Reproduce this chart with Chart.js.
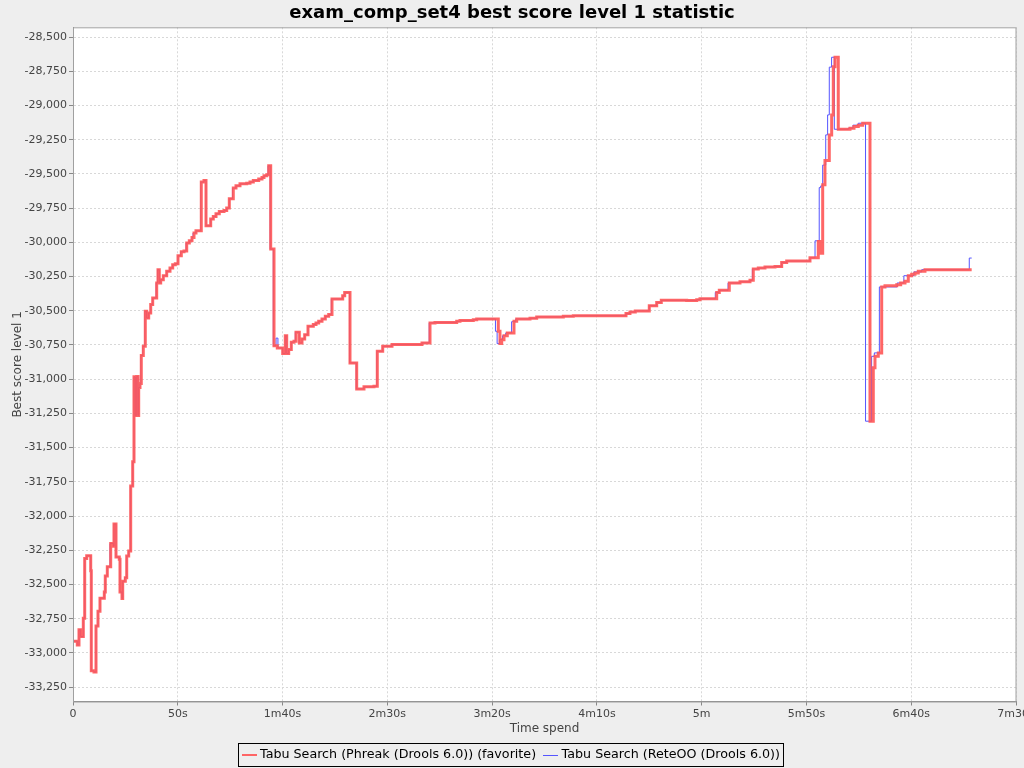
<!DOCTYPE html>
<html>
<head>
<meta charset="utf-8">
<script src="https://cdn.jsdelivr.net/npm/chart.js@4"></script>
<style>
  html, body { margin: 0; padding: 0; background: #eeeeee; }
  #wrap { width: 1024px; height: 768px; }
</style>
</head>
<body>
<div id="wrap"><canvas id="chart" width="1024" height="768"></canvas></div>
<script>
// time spent (seconds) and best score level 1
const seriesNames = ["Tabu Search (Phreak (Drools 6.0)) (favorite)", "Tabu Search (ReteOO (Drools 6.0))"];
const seriesColors = ["rgba(255, 85, 85, 0.9)", "#5555ff"];

const phreakTime = [0.4, 2.05, 2.86, 3.67, 4.92, 5.58, 6.54, 8.45, 8.73, 10.02,
  10.98, 11.93, 12.88, 14.94, 15.41, 16.37, 17.99, 19.23, 19.56, 20.52,
  22.09, 22.43, 23.38, 23.72, 24.96, 25.63, 26.58, 27.53, 28.49, 29.11,
  29.73, 30.40, 31.02, 31.35, 31.97, 32.59, 33.55, 34.50, 35.17, 36.12,
  37.08, 38.03, 39.94, 40.56, 41.18, 41.85, 43.09, 44.71, 46.29, 47.58,
  48.82, 50.11, 51.68, 52.97, 54.26, 55.50, 56.79, 57.74, 58.69, 61.22,
  62.51, 63.47, 65.71, 66.95, 68.24, 69.81, 72.06, 73.34, 74.59, 76.49,
  77.78, 79.69, 82.89, 84.46, 86.04, 88.62, 90.19, 91.14, 92.43, 93.39,
  94.34, 95.92, 97.49, 100.07, 101.31, 101.98, 102.93, 104.17, 105.46, 106.41,
  107.99, 109.28, 110.56, 112.14, 114.67, 115.96, 117.24, 118.82, 120.40, 122.02,
  123.59, 128.70, 129.65, 132.18, 135.38, 138.86, 143.63, 145.21, 147.79, 152.23,
  166.54, 170.36, 172.74, 183.10, 184.67, 191.02, 192.64, 202.95, 203.76, 204.57,
  205.67, 207.24, 210.44, 211.73, 218.08, 221.27, 233.97, 238.74, 263.89, 265.79,
  268.32, 275.00, 278.54, 280.73, 292.85, 297.62, 299.20, 307.17, 308.41, 313.18,
  318.29, 323.06, 324.63, 327.02, 330.21, 334.99, 338.18, 340.57, 351.69, 355.65,
  356.46, 357.75, 358.84, 360.90, 362.04, 362.81, 363.62, 365.19, 370.78, 372.69,
  374.74, 376.84, 380.32, 381.90, 382.71, 384.28, 385.91, 387.48, 393.07, 394.97,
  397.03, 398.60, 400.22, 401.80, 403.37, 406.57, 428.85];
const phreakScore = [-32914, -32943, -32830, -32880, -32747, -32310, -32290, -32400, -33131, -33140,
  -32803, -32695, -32600, -32555, -32438, -32370, -32200, -32220, -32058, -32300,
  -32316, -32555, -32603, -32477, -32450, -32292, -32255, -31781, -31603, -30983,
  -31265, -30980, -31265, -31061, -31032, -30827, -30760, -30504, -30553, -30516,
  -30455, -30407, -30297, -30200, -30297, -30273, -30244, -30212, -30188, -30164,
  -30156, -30098, -30069, -30064, -30005, -29989, -29964, -29932, -29916, -29560,
  -29548, -29879, -29830, -29811, -29791, -29775, -29767, -29750, -29682, -29604,
  -29587, -29573, -29568, -29560, -29548, -29538, -29527, -29514, -29507, -29441,
  -30049, -30755, -30772, -30813, -30682, -30813, -30784, -30730, -30723, -30657,
  -30735, -30706, -30675, -30614, -30601, -30589, -30577, -30560, -30541, -30528,
  -30414, -30390, -30366, -30881, -31071, -31056, -31052, -30796, -30760, -30747,
  -30735, -30589, -30585, -30577, -30572, -30565, -30560, -30650, -30740, -30711,
  -30682, -30662, -30577, -30560, -30555, -30545, -30541, -30536, -30521, -30509,
  -30501, -30463, -30439, -30424, -30425, -30419, -30412, -30366, -30351, -30297,
  -30288, -30278, -30195, -30188, -30180, -30176, -30147, -30137, -30113, -29994,
  -30080, -29580, -29403, -29215, -29069, -28717, -28648, -29174, -29166, -29154,
  -29144, -29130, -31307, -30917, -30833, -30808, -30326, -30317, -30310, -30297,
  -30285, -30244, -30234, -30224, -30212, -30200, -30200];

const reteTime = [0.4, 2.05, 2.86, 3.67, 4.92, 5.58, 6.54, 8.45, 8.73, 10.02,
  10.98, 11.93, 12.88, 14.94, 15.41, 16.37, 17.7, 19.23, 19.56, 20.52,
  22.09, 22.43, 23.38, 23.72, 24.7, 25.63, 26.58, 27.4, 28.49, 29.11,
  29.73, 30.40, 31.02, 31.35, 31.97, 32.4, 33.3, 34.3, 35.17, 36.12,
  37.08, 38.03, 39.7, 40.4, 41.18, 41.85, 43.09, 44.71, 46.29, 47.58,
  48.82, 50.11, 51.4, 52.97, 54.0, 55.50, 56.79, 57.3, 58.69, 61.0,
  62.51, 63.47, 65.71, 66.95, 68.24, 69.81, 72.06, 73.34, 74.59, 76.1,
  77.78, 79.69, 82.89, 84.46, 86.04, 88.62, 90.19, 91.14, 92.43, 93.1,
  94.1, 95.6, 96.9, 97.8, 100.07, 101.31, 101.98, 102.93, 104.17, 105.46, 106.1,
  107.99, 109.28, 110.56, 112.14, 114.67, 115.96, 117.24, 118.82, 120.40, 122.02,
  123.3, 128.70, 129.65, 132.0, 135.2, 138.86, 143.63, 145.0, 147.79, 152.23,
  166.54, 170.0, 172.74, 183.10, 184.67, 191.02, 192.64, 201.6, 202.4, 203.5,
  205.0, 206.5, 209.3, 211.3, 218.08, 221.27, 233.97, 238.74, 263.89, 265.79,
  268.32, 275.00, 278.54, 280.73, 292.85, 297.62, 299.20, 306.5, 308.41, 312.6,
  318.29, 323.06, 324.2, 327.02, 330.21, 334.99, 338.18, 340.57, 351.69, 354.1,
  356.1, 356.8, 357.75, 359.2, 360.1, 360.9, 362.0, 363.3, 370.0, 372.2,
  374.7, 378.2, 381.1, 382.4, 384.8, 393.3, 396.5, 401.3, 405.0, 427.7, 428.85];
const reteScore = [-32914, -32943, -32830, -32880, -32747, -32310, -32290, -32400, -33131, -33140,
  -32803, -32695, -32600, -32555, -32438, -32370, -32200, -32220, -32058, -32300,
  -32316, -32555, -32603, -32477, -32450, -32292, -32255, -31781, -31603, -30983,
  -31265, -30980, -31265, -31061, -31032, -30827, -30760, -30504, -30553, -30516,
  -30455, -30407, -30297, -30200, -30297, -30273, -30244, -30212, -30188, -30164,
  -30156, -30098, -30069, -30064, -30005, -29989, -29964, -29932, -29916, -29560,
  -29548, -29879, -29830, -29811, -29791, -29775, -29767, -29750, -29682, -29604,
  -29587, -29573, -29568, -29560, -29548, -29538, -29527, -29514, -29507, -29441,
  -30049, -30755, -30700, -30772, -30813, -30682, -30813, -30784, -30730, -30723, -30657,
  -30735, -30706, -30675, -30614, -30601, -30589, -30577, -30560, -30541, -30528,
  -30414, -30390, -30366, -30881, -31071, -31056, -31052, -30796, -30760, -30747,
  -30735, -30589, -30585, -30577, -30572, -30565, -30560, -30650, -30740, -30711,
  -30682, -30662, -30580, -30560, -30555, -30545, -30541, -30536, -30521, -30509,
  -30501, -30463, -30439, -30424, -30425, -30419, -30412, -30366, -30351, -30297,
  -30288, -30278, -30195, -30188, -30180, -30176, -30147, -30137, -30113, -29989,
  -29600, -29588, -29436, -29215, -29069, -28720, -28648, -29174, -29166, -29144,
  -29130, -31307, -30833, -30808, -30326, -30297, -30244, -30216, -30200, -30115, -30115];

const xTicks = [0, 50, 100, 150, 200, 250, 300, 350, 400, 450];

function toPoints(times, scores) {
  return times.map((t, i) => ({ x: t, y: scores[i] }));
}

function fmtTime(sec) {
  if (sec === 0) return "0";
  const m = Math.floor(sec / 60);
  const s = Math.round(sec - m * 60);
  return (m ? m + "m" : "") + (s ? s + "s" : "");
}

const FONT = "'DejaVu Sans', sans-serif";

// white plot background, grey plot outline, boxed legend under the axis
const plotFrame = {
  id: "plotFrame",
  beforeDraw(chart) {
    const { ctx, chartArea: a } = chart;
    ctx.save();
    ctx.fillStyle = "#ffffff";
    ctx.fillRect(a.left, a.top, a.right - a.left, a.bottom - a.top);
    ctx.restore();
  },
  afterDraw(chart) {
    const { ctx, chartArea: a } = chart;
    ctx.save();
    ctx.strokeStyle = "#a0a0a0";
    ctx.lineWidth = 1;
    ctx.strokeRect(a.left + 0.5, a.top + 0.5, a.right - a.left - 0.5, a.bottom - a.top);

    ctx.font = "12.7px " + FONT;
    const symW = 15, gapIn = 3.5, gapItem = 7, pad = 3.5;
    const widths = seriesNames.map(n => ctx.measureText(n).width);
    const total = pad * 2 + widths.reduce((s, w) => s + symW + gapIn + w, 0) + gapItem * (widths.length - 1);
    const left = Math.round(511 - total / 2);
    const midY = 755;
    ctx.strokeStyle = "#000000";
    ctx.strokeRect(left + 0.5, 743.5, Math.round(total), 23);
    let x = left + pad;
    ctx.textBaseline = "middle";
    ctx.textAlign = "left";
    seriesNames.forEach((name, i) => {
      ctx.fillStyle = seriesColors[i];
      ctx.fillRect(Math.round(x), i === 0 ? midY - 1 : midY, symW, i === 0 ? 2 : 1);
      ctx.fillStyle = "#000000";
      ctx.fillText(name, x + symW + gapIn, midY);
      x += symW + gapIn + widths[i] + gapItem;
    });
    ctx.restore();
  }
};

new Chart(document.getElementById("chart"), {
  type: "line",
  data: {
    datasets: [
      {
        label: seriesNames[0],
        data: toPoints(phreakTime, phreakScore),
        borderColor: seriesColors[0],
        borderWidth: 3,
        stepped: true,
        pointRadius: 0,
        fill: false
      },
      {
        label: seriesNames[1],
        data: toPoints(reteTime, reteScore),
        borderColor: seriesColors[1],
        borderWidth: 1,
        stepped: true,
        pointRadius: 0,
        fill: false
      }
    ]
  },
  options: {
    responsive: false,
    animation: false,
    layout: { padding: { left: 0, right: 0, top: 0, bottom: 26 } },
    plugins: {
      title: {
        display: true,
        text: "exam_comp_set4 best score level 1 statistic",
        color: "#000000",
        font: { family: FONT, size: 18, weight: "bold" },
        padding: { top: 2.5, bottom: 3.2 }
      },
      legend: { display: false },
      tooltip: { enabled: false }
    },
    scales: {
      x: {
        type: "linear",
        min: 0,
        max: 450,
        afterBuildTicks(scale) {
          scale.ticks = xTicks.map(v => ({ value: v }));
        },
        afterFit(scale) {
          scale.height = 40.5;
          scale.paddingLeft = 0;
          scale.paddingRight = 8;
        },
        ticks: {
          color: "#444444",
          font: { family: FONT, size: 11 },
          padding: 2,
          maxRotation: 0,
          autoSkip: false,
          callback: v => fmtTime(v)
        },
        grid: {
          color: "#d8d8d8",
          tickLength: 4,
          tickColor: "#888888",
          tickBorderDash: []
        },
        border: { display: true, color: "#888888", dash: [2, 2] },
        title: {
          display: true,
          text: "Time spend",
          color: "#444444",
          font: { family: FONT, size: 12 },
          padding: { top: 0, bottom: 6 }
        }
      },
      y: {
        type: "linear",
        min: -33355,
        max: -28429,
        afterFit(scale) {
          scale.width = 73;
        },
        ticks: {
          stepSize: 250,
          includeBounds: false,
          color: "#444444",
          font: { family: FONT, size: 11 },
          padding: 2,
          callback: v => v.toLocaleString("en-US")
        },
        grid: {
          color: "#d8d8d8",
          tickLength: 4,
          tickColor: "#888888",
          tickBorderDash: []
        },
        border: { display: true, color: "#888888", dash: [2, 2] },
        title: {
          display: true,
          text: "Best score level 1",
          color: "#444444",
          font: { family: FONT, size: 12 },
          padding: { top: 11, bottom: 0 }
        }
      }
    }
  },
  plugins: [plotFrame]
});
</script>
</body>
</html>
